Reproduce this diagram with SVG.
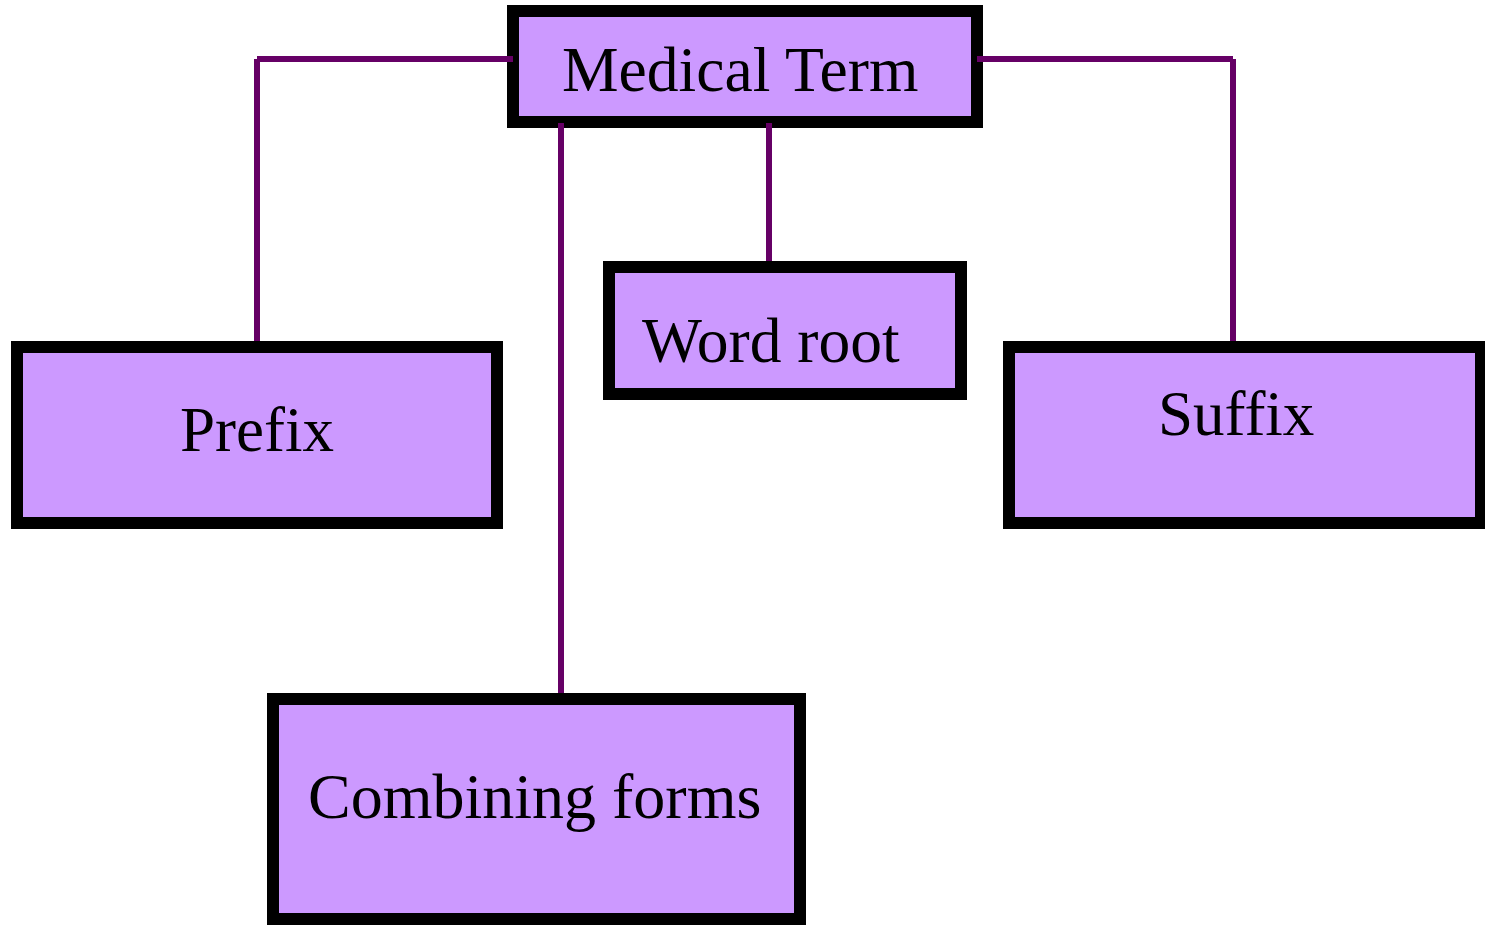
<svg xmlns="http://www.w3.org/2000/svg" width="1485" height="926" viewBox="0 0 1485 926">
  <style>
    .box { fill: #CC99FF; stroke: #000000; stroke-width: 12; }
    .lbl { font-family: "Liberation Serif", "Times New Roman", serif; font-size: 63px; fill: #000000; }
    .conn { stroke: #660066; stroke-width: 6; fill: none; }
  </style>
  <rect width="1485" height="926" fill="#FFFFFF"/>
  <g id="node-medical-term">
    <rect class="box" x="513" y="11" width="464" height="111"/>
    <text class="lbl" x="562" y="91" style="font-size:63.6px">Medical Term</text>
  </g>
  <g id="node-prefix">
    <rect class="box" x="17" y="347" width="480" height="176"/>
    <text class="lbl" x="180" y="451">Prefix</text>
  </g>
  <g id="node-word-root">
    <rect class="box" x="609" y="267" width="352" height="127"/>
    <text class="lbl" x="642" y="362" style="font-size:63.5px">Word root</text>
  </g>
  <g id="node-suffix">
    <rect class="box" x="1009" y="347" width="472" height="176"/>
    <text class="lbl" x="1158" y="435">Suffix</text>
  </g>
  <g id="node-combining-forms">
    <rect class="box" x="273" y="699" width="527" height="220"/>
    <text class="lbl" x="308" y="818" style="font-size:64px">Combining forms</text>
  </g>
  <g id="connectors">
    <line class="conn" x1="513" y1="59" x2="257" y2="59"/>
    <line class="conn" x1="257" y1="59" x2="257" y2="341"/>
    <line class="conn" x1="977" y1="59" x2="1233" y2="59"/>
    <line class="conn" x1="1233" y1="59" x2="1233" y2="341"/>
    <line class="conn" x1="769" y1="123" x2="769" y2="261"/>
    <line class="conn" x1="561" y1="123" x2="561" y2="693"/>
  </g>
</svg>
